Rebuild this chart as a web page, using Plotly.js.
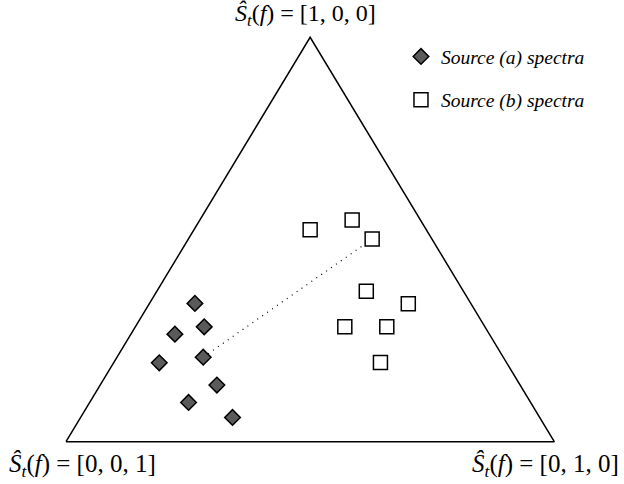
<!DOCTYPE html>
<html>
<head>
<meta charset="utf-8">
<script src="https://cdn.plot.ly/plotly-3.0.1.min.js"></script>
<style>html,body{margin:0;padding:0;background:#fff;}#chart{width:624px;height:484px;}</style>
</head>
<body>
<div id="chart"></div>
<script>
// Positions in the triangle: x along the base (0 = [0,0,1] corner, 1 = [0,1,0] corner),
// y from the base (0) to the apex [1,0,0] (1).
const sourceA_x = [0.264, 0.283, 0.223, 0.191, 0.281, 0.309, 0.251, 0.341];
const sourceA_y = [0.342, 0.284, 0.266, 0.195, 0.209, 0.140, 0.097, 0.060];
const sourceB_x = [0.500, 0.586, 0.627, 0.615, 0.701, 0.571, 0.657, 0.644];
const sourceB_y = [0.524, 0.548, 0.501, 0.372, 0.341, 0.284, 0.284, 0.196];
const triangle_x = [0, 1, 0.5, 0];
const triangle_y = [0, 0, 1, 0];
const link_x = [sourceA_x[4], sourceB_x[2]];
const link_y = [sourceA_y[4], sourceB_y[2]];
const seriesNames = ["Source (a) spectra", "Source (b) spectra"];
const vertexLabels = ["[1, 0, 0]", "[0, 0, 1]", "[0, 1, 0]"];

const lbl = v => "<i>Ŝ</i><sub><i>t</i></sub>(<i>f</i>) = " + v;

const traces = [
  {x: triangle_x, y: triangle_y, mode: "lines", line: {color: "#000", width: 1.5},
   showlegend: false, hoverinfo: "skip"},
  {x: link_x, y: link_y, mode: "lines", line: {color: "#000", width: 1.2, dash: "1px,5px"},
   showlegend: false, hoverinfo: "skip"},
  {x: sourceA_x, y: sourceA_y, mode: "markers", name: "<i>" + seriesNames[0] + "</i>", legendgroup: "a",
   marker: {symbol: "diamond", size: 12, color: "#5a5a5a", line: {color: "#000", width: 1.5}}},
  {x: sourceB_x, y: sourceB_y, mode: "markers", name: "<i>" + seriesNames[1] + "</i>", legendgroup: "b",
   marker: {symbol: "square", size: 14, color: "#fff", line: {color: "#000", width: 1.5}}}
];

const layout = {
  width: 624, height: 484,
  margin: {l: 0, r: 0, t: 0, b: 0},
  paper_bgcolor: "#fff", plot_bgcolor: "#fff",
  xaxis: {range: [-0.1352, 1.1428], visible: false, fixedrange: true},
  yaxis: {range: [-0.1046, 1.0922], visible: false, fixedrange: true},
  showlegend: true,
  legend: {x: 0.6426, y: 0.923, xanchor: "left", yanchor: "top",
           font: {family: "Liberation Serif, Times New Roman, serif", size: 19.5, color: "#000"},
           traceorder: "grouped", tracegroupgap: 15, bgcolor: "rgba(0,0,0,0)"},
  font: {family: "Liberation Serif, Times New Roman, serif", color: "#000"},
  annotations: [
    {x: 0.4915, y: 1.055, xref: "x", yref: "y", text: lbl(vertexLabels[0]), showarrow: false,
     xanchor: "center", yanchor: "middle", font: {size: 24}},
    {x: 0.033, y: -0.058, xref: "x", yref: "y", text: lbl(vertexLabels[1]), showarrow: false,
     xanchor: "center", yanchor: "middle", font: {size: 25}},
    {x: 0.981, y: -0.058, xref: "x", yref: "y", text: lbl(vertexLabels[2]), showarrow: false,
     xanchor: "center", yanchor: "middle", font: {size: 25}}
  ]
};

Plotly.newPlot("chart", traces, layout, {displayModeBar: false, staticPlot: true});
</script>
</body>
</html>
